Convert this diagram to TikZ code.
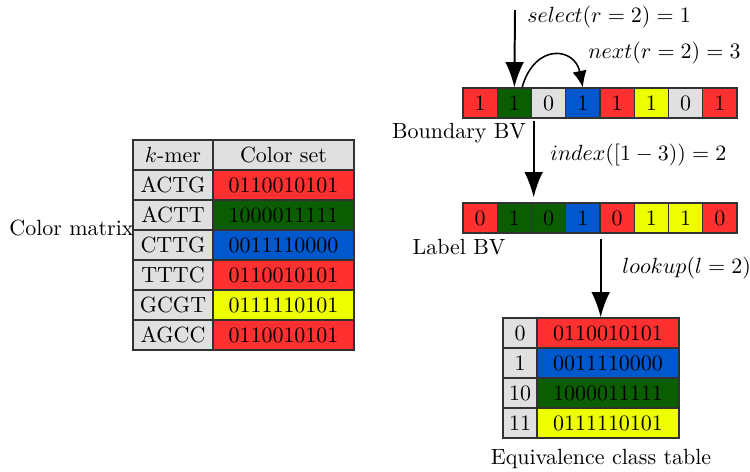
\documentclass[tikz,border=0pt]{standalone}
\usetikzlibrary{arrows.meta}
\definecolor{cred}{RGB}{255,48,48}
\definecolor{cgreen}{RGB}{10,94,0}
\definecolor{cblue}{RGB}{0,88,204}
\definecolor{cyellow}{RGB}{238,255,0}
\definecolor{cgray}{RGB}{224,224,224}
\definecolor{cedge}{RGB}{50,50,50}
\newdimen\pxu
\pxu=0.455pt
\tikzset{
  cell/.style={draw=cedge, line width=0.6pt, inner sep=0pt, minimum height=30*\pxu},
  bit/.style={cell, minimum width=34.25*\pxu},
  kcol/.style={cell, fill=cgray, minimum width=80*\pxu},
  scol/.style={cell, minimum width=141*\pxu},
  ecol/.style={cell, fill=cgray, minimum width=34*\pxu},
  vcol/.style={cell, minimum width=142*\pxu},
  bigarrow/.style={line width=0.9pt, -{Latex[length=11.5pt,width=8.5pt]}},
  smallarrow/.style={line width=0.7pt, -{Latex[length=7.5pt,width=6.5pt]}},
  lbl/.style={inner sep=0pt}
}
\begin{document}
\begin{tikzpicture}[x=0.455pt,y=-0.455pt]
\useasboundingbox (0,0) rectangle (750,472);

% colour matrix
\node[kcol] (khead) at (173,155) {$k$-mer};
\node[scol, fill=cgray] (shead) at (283.5,155) {Color set};
\foreach \k/\c/\s [count=\i] in {ACTG/cred/0110010101, ACTT/cgreen/1000011111,
    CTTG/cblue/0011110000, TTTC/cred/0110010101, GCGT/cyellow/0111110101,
    AGCC/cred/0110010101}{
  \node[kcol] (k\i) at (173,{155+30*\i}) {\k};
  \node[scol, fill=\c] (s\i) at (283.5,{155+30*\i}) {\s};
}
\node[lbl] (cmlabel) at (71.5,228) {Color matrix};

% boundary bit vector
\foreach \c/\v [count=\i] in {cred/1,cgreen/1,cgray/0,cblue/1,cred/1,cyellow/1,cgray/0,cred/1}{
  \node[bit, fill=\c] (b\i) at ({463+34.25*(\i-0.5)},103) {\v};
}
\node[lbl] (bvlabel) at (459,133) {Boundary BV};

% label bit vector
\foreach \c/\v [count=\i] in {cred/0,cgreen/1,cgreen/0,cblue/1,cred/0,cyellow/1,cyellow/1,cred/0}{
  \node[bit, fill=\c] (l\i) at ({463+34.25*(\i-0.5)},218) {\v};
}
\node[lbl] (lvlabel) at (459,247) {Label BV};

% equivalence class table
\foreach \n/\c/\s [count=\i] in {0/cred/0110010101, 1/cblue/0011110000,
    10/cgreen/1000011111, 11/cyellow/0111110101}{
  \node[ecol] (e\i) at (520,{303+30*\i}) {\n};
  \node[vcol, fill=\c] (v\i) at (608,{303+30*\i}) {\s};
}
\node[lbl] (eqlabel) at (601,459) {Equivalence class table};

% operations
\coordinate (selstart) at (515,10);
\draw[bigarrow] (selstart) -- (b2.north);
\node[lbl, anchor=west] (sellabel) at (527,17) {$select(r = 2) = 1$};

\draw[smallarrow] ([xshift=3.5pt]b2.north) .. controls +(13,-45) and +(-8,-40) .. (b4.north);
\node[lbl, anchor=west] (nextlabel) at (588,53) {$next(r = 2) = 3$};

\draw[bigarrow] ([shift={(1.5,2)}]b2.south east) -- ([shift={(1.5,-5)}]l2.north east);
\node[lbl, anchor=west] (idxlabel) at (550,155) {$index([1-3)) = 2$};

\draw[bigarrow] ([shift={(0,5)}]l4.south east) -- (v1.north -| l4.south east);
\node[lbl, anchor=west] (lklabel) at (622,268) {$lookup(l = 2)$};
\end{tikzpicture}
\end{document}
